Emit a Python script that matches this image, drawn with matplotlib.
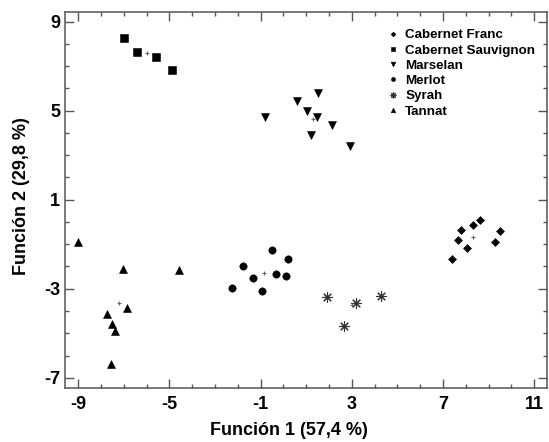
import numpy as np
import matplotlib
matplotlib.use('Agg')
import matplotlib.pyplot as plt
from matplotlib.ticker import MultipleLocator

# Set common figure parameters:
newparams = {'font.family': ['Liberation Sans', 'DejaVu Sans'], 'font.weight': 'bold',
             'axes.unicode_minus': False,
             'axes.linewidth': 1.1, 'axes.edgecolor': '#555555',
             'xtick.direction': 'in', 'ytick.direction': 'in', 'xtick.top': True, 'ytick.right': True,
             'xtick.major.size': 6.5, 'ytick.major.size': 6.5, 'xtick.minor.size': 3, 'ytick.minor.size': 3,
             'xtick.color': '#555555', 'ytick.color': '#555555',
             'xtick.labelcolor': 'black', 'ytick.labelcolor': 'black',
             'xtick.labelsize': 13, 'ytick.labelsize': 13, 'xtick.major.pad': 6, 'ytick.major.pad': 3.5}
plt.rcParams.update(newparams)

# Discriminant scores
cf_x = [7.38, 7.67, 7.77, 8.06, 8.30, 8.63, 9.28, 9.51]
cf_y = [-1.68, -0.83, -0.38, -1.16, -0.14, 0.07, -0.91, -0.41]
cs_x = [-6.98, -6.44, -5.61, -4.88]
cs_y = [8.28, 7.64, 7.40, 6.83]
ma_x = [-0.81, 0.61, 1.04, 1.53, 1.46, 2.11, 1.21, 2.92]
ma_y = [4.70, 5.44, 5.00, 5.78, 4.73, 4.36, 3.91, 3.41]
me_x = [-2.27, -1.79, -1.32, -0.94, -0.52, -0.34, 0.20, 0.11]
me_y = [-2.96, -1.99, -2.53, -3.10, -1.26, -2.35, -1.68, -2.43]
sy_x = [1.92, 3.17, 2.67, 4.26]
sy_y = [-3.36, -3.63, -4.66, -3.31]
ta_x = [-9.0, -7.03, -4.57, -6.85, -7.75, -7.51, -7.39, -7.58]
ta_y = [-0.91, -2.13, -2.16, -3.88, -4.14, -4.59, -4.90, -6.40]
# group centroids
cen_x = [8.30, -5.97, 1.30, -0.86, 3.00, -7.20]
cen_y = [-0.69, 7.58, 4.65, -2.31, -3.74, -3.63]

labels = ['Cabernet Franc', 'Cabernet Sauvignon', 'Marselan', 'Merlot', 'Syrah', 'Tannat']

fig = plt.figure(figsize=(5.49, 4.42), dpi=100)
ax = fig.add_axes([65/549, 1-388/442, 482/549, (388-11.7)/442])

ax.plot(cf_x, cf_y, 'D', color='black', ms=4.4, mew=0.4, label=labels[0])
ax.plot(cs_x, cs_y, 's', color='black', ms=5.8, mew=0.4, label=labels[1])
ax.plot(ma_x, ma_y, 'v', color='black', ms=6.2, mew=0.4, label=labels[2])
ax.plot(me_x, me_y, 'o', color='black', ms=5.3, mew=0.4, label=labels[3])
ax.plot(sy_x, sy_y, ls='none', marker=(8, 2, 0), color='#333333', ms=7.5, mew=0.8, label=labels[4])
ax.plot(ta_x, ta_y, '^', color='black', ms=6.0, mew=0.4, label=labels[5])
ax.plot(cen_x, cen_y, '+', color='#666666', ms=3, mew=0.8)

ax.set_xlim(-9.58, 11.56)
ax.set_ylim(-7.46, 9.45)
ax.xaxis.set_minor_locator(MultipleLocator(1))
ax.yaxis.set_minor_locator(MultipleLocator(1))
ax.set_xticks([-9, -5, -1, 3, 7, 11])
ax.set_yticks([-7, -3, 1, 5, 9])
ax.tick_params(which='both', width=1.0)

ax.set_xlabel('Función 1 (57,4 %)', fontsize=13, fontweight='bold')
ax.set_ylabel('Función 2 (29,8 %)', fontsize=13, fontweight='bold')
ax.xaxis.set_label_coords((289-65)/482, -(422-388)/376.3)
ax.yaxis.set_label_coords(-(65-30)/482, (388-196)/376.3)

leg = ax.legend(loc='upper left', bbox_to_anchor=(388/549, 1-29/442), bbox_transform=fig.transFigure,
                frameon=False, fontsize=9.6, markerscale=0.55, handlelength=0.8, handletextpad=0.5,
                labelspacing=0.22, borderpad=0, borderaxespad=0)
for t in leg.get_texts():
    t.set_fontweight('bold')

plt.savefig('out.png', dpi=100)
